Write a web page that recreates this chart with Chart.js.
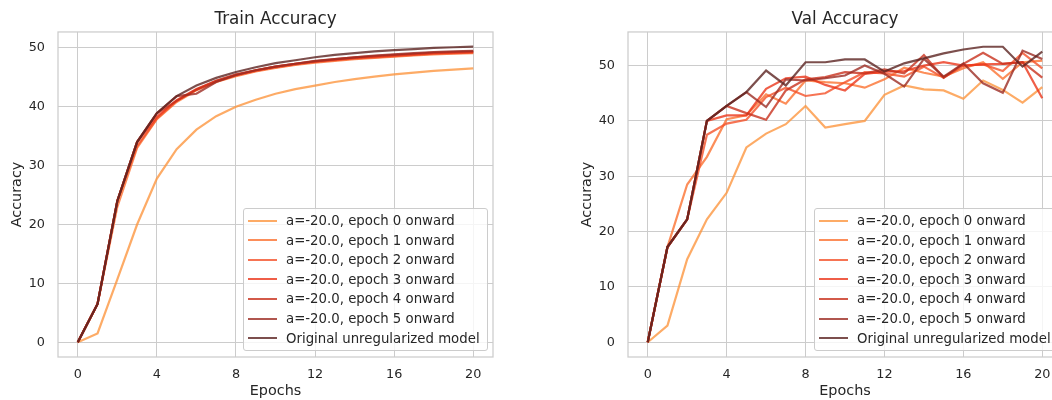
<!DOCTYPE html>
<html>
<head>
<meta charset="utf-8">
<script src="https://cdn.jsdelivr.net/npm/chart.js@4.4.0/dist/chart.umd.min.js"></script>
<style>
  body { margin: 0; width: 1052px; height: 400px; overflow: hidden; background: #fff; position: relative; font-family: 'DejaVu Sans', sans-serif; }
  .wrap { position: absolute; top: 0; width: 500px; height: 400px; }
  .legend { position: absolute; background: rgba(255,255,255,0.8); border: 1px solid #cccccc; border-radius: 3px; padding: 2px 0; font-size: 13.3px; color: #262626; }
  .legend .row { height: 19.55px; display: flex; align-items: center; white-space: nowrap; }
  .legend .swatch { display: inline-block; width: 29px; height: 2px; margin: 0 9px 0 4px; }
</style>
</head>
<body>
<div class="wrap" style="left:0"><canvas id="trainAcc" width="500" height="400"></canvas></div>
<div class="wrap" style="left:570px"><canvas id="valAcc" width="500" height="400"></canvas></div>
<div class="legend" id="trainLegend" style="left:243px;top:208px;width:243px"></div>
<div class="legend" id="valLegend" style="left:814px;top:208px;width:243px"></div>
<script>
var epochs = [0, 1, 2, 3, 4, 5, 6, 7, 8, 9, 10, 11, 12, 13, 14, 15, 16, 17, 18, 19, 20];
var xTicks = [0, 4, 8, 12, 16, 20];
var yTicks = [0, 10, 20, 30, 40, 50];

var seriesLabels = [
    "a=-20.0, epoch 0 onward",
    "a=-20.0, epoch 1 onward",
    "a=-20.0, epoch 2 onward",
    "a=-20.0, epoch 3 onward",
    "a=-20.0, epoch 4 onward",
    "a=-20.0, epoch 5 onward",
    "Original unregularized model"
];
var seriesColors = [
    'rgba(252,150,64,0.8)',
    'rgba(251,114,49,0.8)',
    'rgba(244,81,41,0.8)',
    'rgba(235,54,26,0.8)',
    'rgba(200,49,29,0.8)',
    'rgba(156,44,35,0.8)',
    'rgba(91,35,32,0.8)'
];

// train accuracy per epoch
var trainE0 = [0, 1.5, 10.7, 20.0, 27.8, 32.8, 36.1, 38.4, 40.0, 41.2, 42.2, 43.0, 43.6, 44.2, 44.7, 45.1, 45.5, 45.8, 46.1, 46.3, 46.5];
var trainE1 = [0, 6.5, 23.0, 33.0, 37.9, 40.8, 42.8, 44.2, 45.2, 46.0, 46.6, 47.1, 47.5, 47.8, 48.1, 48.3, 48.5, 48.7, 48.9, 49.0, 49.1];
var trainE2 = [0, 6.5, 24.0, 33.3, 38.0, 41.0, 42.9, 44.3, 45.3, 46.1, 46.7, 47.2, 47.6, 47.9, 48.2, 48.4, 48.6, 48.8, 49.0, 49.1, 49.2];
var trainE3 = [0, 6.5, 24.0, 34.0, 38.3, 41.1, 43.0, 44.4, 45.4, 46.2, 46.8, 47.3, 47.7, 48.0, 48.3, 48.5, 48.7, 48.9, 49.1, 49.2, 49.3];
var trainE4 = [0, 6.5, 24.0, 34.0, 38.9, 41.0, 42.9, 44.4, 45.5, 46.2, 46.8, 47.3, 47.7, 48.1, 48.4, 48.6, 48.8, 49.0, 49.2, 49.3, 49.4];
var trainE5 = [0, 6.5, 24.0, 34.0, 38.9, 41.8, 42.2, 44.2, 45.4, 46.2, 46.8, 47.3, 47.8, 48.1, 48.4, 48.7, 48.9, 49.1, 49.3, 49.4, 49.5];
var trainOrig = [0, 6.5, 24.0, 34.0, 38.9, 41.8, 43.6, 44.9, 45.9, 46.7, 47.4, 47.9, 48.4, 48.8, 49.1, 49.4, 49.6, 49.8, 50.0, 50.1, 50.2];

// val accuracy per epoch
var valE0 = [0, 3.0, 15.0, 22.2, 27.0, 35.2, 37.7, 39.4, 42.7, 38.8, 39.4, 40.0, 44.7, 46.4, 45.7, 45.5, 44.0, 47.3, 45.6, 43.3, 46.1];
var valE1 = [0, 17.2, 28.5, 33.5, 40.3, 41.0, 44.8, 43.1, 47.3, 47.0, 46.8, 46.0, 47.5, 49.6, 48.7, 48.0, 49.5, 50.6, 47.6, 50.6, 50.9];
var valE2 = [0, 17.2, 22.2, 37.5, 39.5, 40.2, 44.3, 46.0, 44.5, 45.0, 47.0, 48.8, 48.6, 48.0, 49.8, 47.8, 50.0, 50.2, 49.0, 52.3, 49.5];
var valE3 = [0, 17.2, 22.2, 40.0, 41.0, 41.0, 45.8, 47.7, 48.0, 46.5, 45.5, 48.5, 48.9, 49.0, 50.0, 50.6, 50.0, 50.2, 50.3, 50.6, 44.1];
var valE4 = [0, 17.2, 22.2, 40.0, 42.7, 41.4, 40.2, 45.5, 47.5, 47.9, 48.8, 48.6, 49.3, 48.6, 51.9, 47.8, 50.3, 52.3, 50.3, 50.6, 47.8];
var valE5 = [0, 17.2, 22.2, 40.0, 42.7, 45.2, 42.5, 47.5, 47.3, 47.7, 48.2, 50.0, 48.5, 46.2, 51.2, 48.0, 50.4, 46.8, 45.1, 52.7, 51.2];
var valOrig = [0, 17.2, 22.2, 40.0, 42.7, 45.2, 49.1, 46.4, 50.6, 50.6, 51.1, 51.1, 48.9, 50.4, 51.3, 52.2, 52.9, 53.4, 53.4, 49.8, 52.5];

var textColor = '#262626';
var gridColor = '#cccccc';
Chart.defaults.font.family = "'DejaVu Sans', sans-serif";

// box around the plot area, like the seaborn spines
var framePlugin = {
    id: 'frame',
    afterDraw: function(chart) {
        var a = chart.chartArea;
        var ctx = chart.ctx;
        ctx.save();
        ctx.strokeStyle = gridColor;
        ctx.lineWidth = 1.25;
        ctx.strokeRect(a.left, a.top, a.right - a.left, a.bottom - a.top);
        ctx.restore();
    }
};

function makeChart(canvasId, title, series, yMin, yMax, padRight) {
    var ctx = document.getElementById(canvasId).getContext('2d');
    return new Chart(ctx, {
        type: 'line',
        data: {
            datasets: series.map(function(d, i) {
                return {
                    label: seriesLabels[i],
                    data: d.map(function(v, j) { return {x: epochs[j], y: v}; }),
                    borderColor: seriesColors[i],
                    borderWidth: 2.2,
                    pointRadius: 0,
                    tension: 0,
                    fill: false,
                    // later series on top, like matplotlib
                    order: series.length - 1 - i
                };
            })
        },
        options: {
            responsive: false,
            animation: false,
            layout: { padding: { top: 0, right: padRight, left: 0, bottom: 0 } },
            plugins: {
                legend: { display: false },
                tooltip: { enabled: false },
                title: {
                    display: true,
                    text: title,
                    fullSize: false,
                    color: textColor,
                    font: { size: 16.8, weight: 'normal' },
                    padding: { top: 10, bottom: 1.8 }
                }
            },
            scales: {
                x: {
                    type: 'linear',
                    min: -1,
                    max: 21,
                    afterBuildTicks: function(s) { s.ticks = xTicks.map(function(v) { return {value: v}; }); },
                    afterFit: function(s) { s.height = 43; },
                    grid: { color: gridColor, drawTicks: false },
                    border: { display: false },
                    ticks: { padding: 10, color: textColor, font: { size: 12.8 } },
                    title: { display: true, text: 'Epochs', color: textColor, font: { size: 14.4 }, padding: { top: 0, bottom: 0 } }
                },
                y: {
                    min: yMin,
                    max: yMax,
                    afterBuildTicks: function(s) { s.ticks = yTicks.map(function(v) { return {value: v}; }); },
                    afterFit: function(s) { s.width = 58; },
                    grid: { color: gridColor, drawTicks: false },
                    border: { display: false },
                    ticks: { padding: 13, color: textColor, font: { size: 12.8 } },
                    title: { display: true, text: 'Accuracy', color: textColor, font: { size: 14.4 }, padding: { top: 9, bottom: 0 } }
                }
            }
        },
        plugins: [framePlugin]
    });
}

function buildLegend(id) {
    var el = document.getElementById(id);
    seriesLabels.forEach(function(lbl, i) {
        var row = document.createElement('div');
        row.className = 'row';
        var sw = document.createElement('span');
        sw.className = 'swatch';
        sw.style.background = seriesColors[i];
        row.appendChild(sw);
        row.appendChild(document.createTextNode(lbl));
        el.appendChild(row);
    });
}

var trainChart = makeChart('trainAcc', 'Train Accuracy',
    [trainE0, trainE1, trainE2, trainE3, trainE4, trainE5, trainOrig], -2.5, 52.7, 7);
var valChart = makeChart('valAcc', 'Val Accuracy',
    [valE0, valE1, valE2, valE3, valE4, valE5, valOrig], -2.67, 56.07, 8);
buildLegend('trainLegend');
buildLegend('valLegend');
</script>
</body>
</html>
